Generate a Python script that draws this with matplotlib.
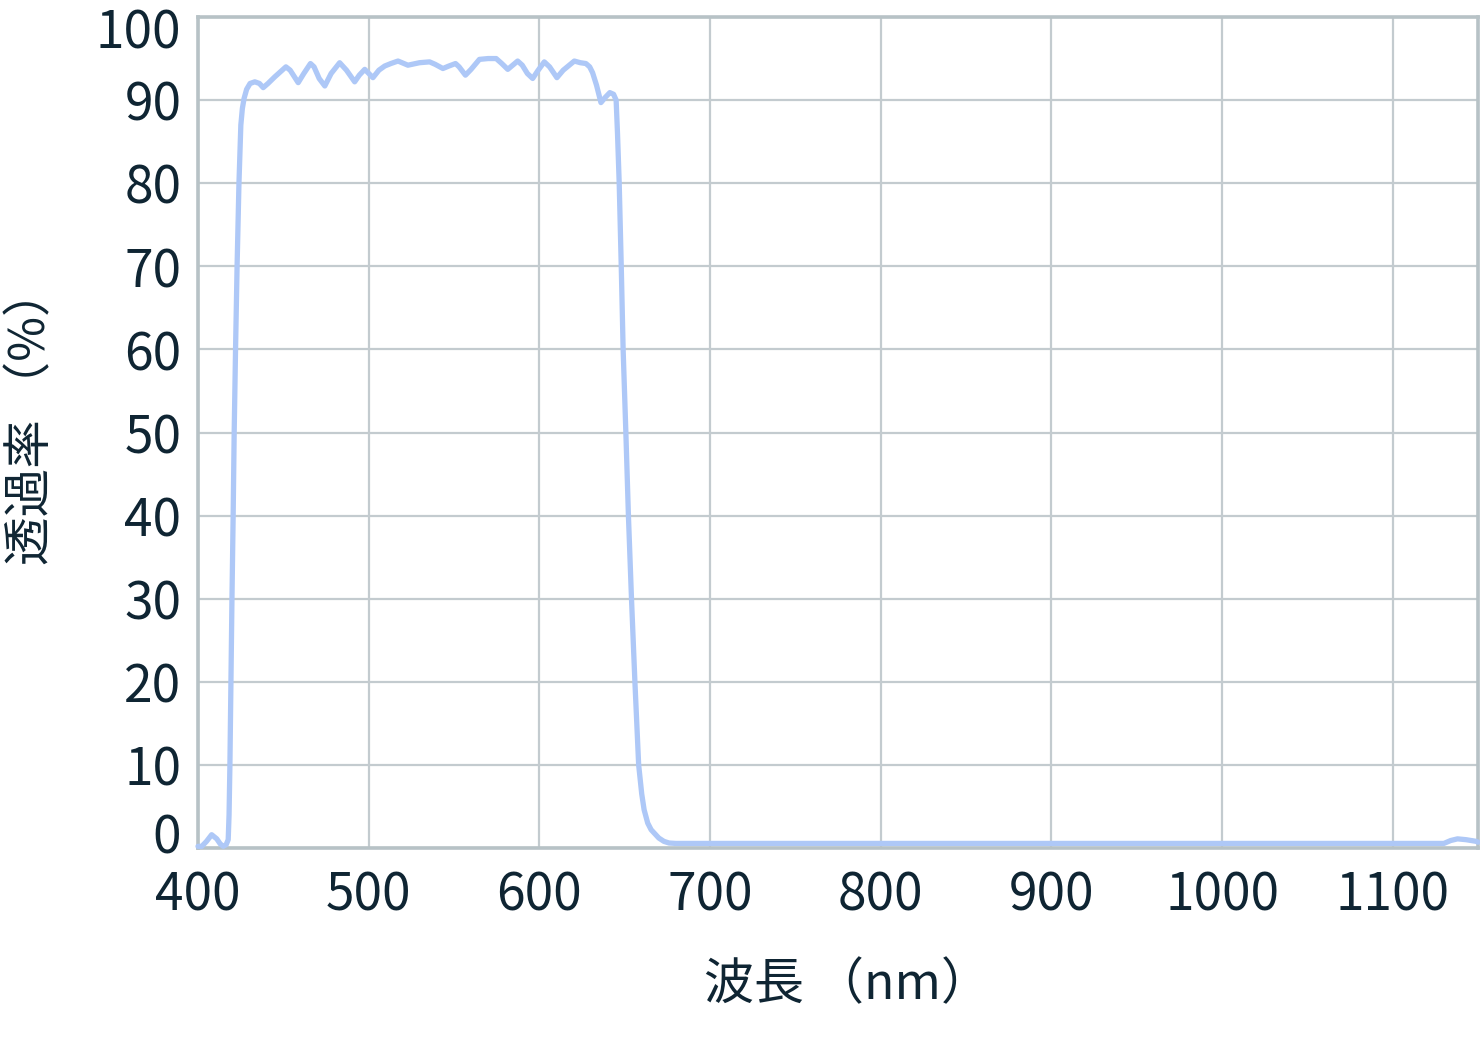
import numpy as np
import matplotlib
matplotlib.use("Agg")
import matplotlib.pyplot as plt
from matplotlib.transforms import ScaledTranslation

plt.rcParams['font.family'] = ['Noto Sans CJK JP', 'DejaVu Sans']

# 透過率カーブ (波長 nm, 透過率 %)
wavelength = [400, 402.2, 405, 408, 411, 413, 414.8, 416.5, 417.7, 418.2, 418.7,
              419.3, 419.9, 420.6, 421.2, 422.0, 422.9, 424.0, 425.1, 426.0, 427.0,
              428.5, 430.5, 433.3, 436, 438.2, 441, 445, 451.5, 454, 458.7, 462,
              465.9, 468, 471, 474.3, 478, 483, 487, 491.8, 494.5, 497.7, 502.5,
              506, 509.4, 513, 517.2, 523, 529.8, 535.7, 539, 543.5, 547, 550.9,
              553, 556.7, 560, 564.9, 570, 574.7, 578, 581.5, 587.3, 590, 593,
              596.1, 599, 602.9, 606, 610.3, 614, 620.5, 624, 627.3, 629.5, 631.2,
              633.5, 636.1, 638.5, 641.3, 643.5, 645.0, 645.8, 646.8, 648.0, 649.1,
              650.7, 652.2, 654.0, 656.0, 658.2, 660.0, 661.4, 663.5, 665.5, 667.3,
              670, 673, 676, 680, 700, 800, 900, 1000, 1100, 1130, 1134, 1138,
              1143, 1149, 1150]
transmittance = [0.2, 0.2, 0.8, 1.6, 1.1, 0.5, 0.2, 0.4, 1.0, 4.0, 10,
                 20, 30, 40, 50, 60, 70, 80, 87.0, 89.0, 90.2,
                 91.3, 92.0, 92.2, 92.0, 91.5, 92.0, 92.8, 94.0, 93.6, 92.1, 93.2,
                 94.4, 94.0, 92.6, 91.7, 93.2, 94.5, 93.6, 92.2, 93.0, 93.7, 92.7,
                 93.6, 94.1, 94.4, 94.7, 94.2, 94.5, 94.6, 94.3, 93.8, 94.1, 94.4,
                 94.0, 93.0, 93.7, 94.9, 95.0, 95.0, 94.4, 93.7, 94.7, 94.2, 93.2,
                 92.6, 93.5, 94.6, 94.0, 92.7, 93.6, 94.7, 94.5, 94.4, 94.0, 93.3,
                 91.8, 89.7, 90.3, 90.9, 90.7, 90.0, 86.0, 80, 70, 60,
                 50, 40, 30, 20, 10, 6.5, 4.6, 3.0, 2.2, 1.8,
                 1.2, 0.8, 0.6, 0.55, 0.55, 0.55, 0.55, 0.55, 0.55, 0.55, 0.9, 1.1,
                 1.0, 0.8, 0.7]

xticks = [400, 500, 600, 700, 800, 900, 1000, 1100]
yticks = [0, 10, 20, 30, 40, 50, 60, 70, 80, 90, 100]

text_color = '#0f2533'
grid_color = '#c3cbcf'
spine_color = '#b7c2c6'
line_color = '#aec8f7'

fig = plt.figure(figsize=(14.8, 10.51), dpi=100)
ax = fig.add_axes([198/1480, 1-848/1051, 1280/1480, 831/1051])

ax.plot(wavelength, transmittance, color=line_color, lw=3.8,
        solid_joinstyle='round', solid_capstyle='round', zorder=3, clip_on=False)

ax.set_xlim(400, 1150)
ax.set_ylim(0, 100)
ax.set_xticks(xticks)
ax.set_yticks(yticks)
ax.grid(True, color=grid_color, lw=1.6)
ax.set_axisbelow(True)

for s in ax.spines.values():
    s.set_color(spine_color)
    s.set_linewidth(2.6)

ax.tick_params(length=0, labelsize=37, labelcolor=text_color)
ax.tick_params(axis='y', pad=12)
ax.tick_params(axis='x', pad=15)

# 0 と 100 のラベルを枠の内側にずらす
ticks_y = ax.yaxis.get_major_ticks()
ticks_y[0].label1.set_transform(ticks_y[0].label1.get_transform()
                                + ScaledTranslation(0, 0.15, fig.dpi_scale_trans))
ticks_y[-1].label1.set_transform(ticks_y[-1].label1.get_transform()
                                 + ScaledTranslation(0, -0.11, fig.dpi_scale_trans))

ax.set_xlabel('波長\u2009（nm）', fontsize=36, color=text_color)
ax.set_ylabel('透過率\u2009（%）', fontsize=35, color=text_color)
ax.xaxis.set_label_coords(0.507, -0.134)
ax.yaxis.set_label_coords(-0.111, 0.52)

fig.savefig('out.png', dpi=100)
